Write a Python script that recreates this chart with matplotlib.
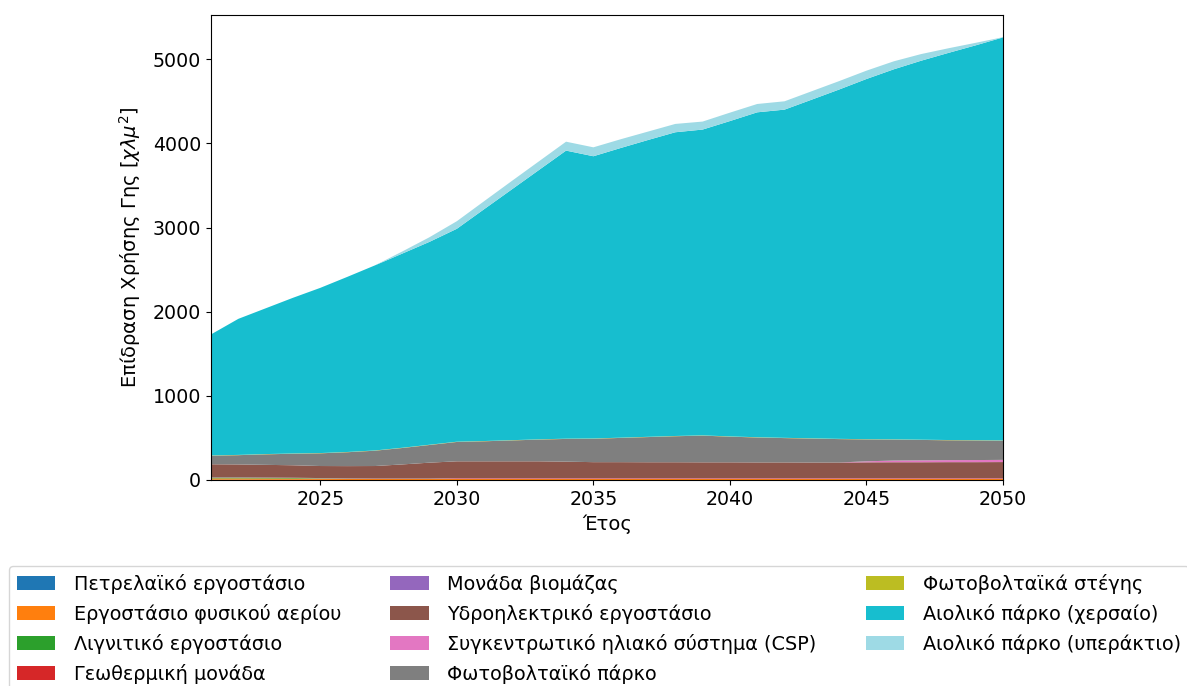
import matplotlib.pyplot as plt
import numpy as np

years = np.arange(2021, 2051)

oil = [3, 3, 2, 2, 1] + [0] * 25
gas = [16, 16, 16, 15, 15] + [14] * 25
lignite = [9, 9, 8, 7, 4, 2] + [0] * 24
geothermal = [0] * 9 + [6] * 21
biomass = [3] * 30
hydro = [156, 154, 151, 148, 143, 146, 149, 168, 189, 199,
         199, 199, 199, 195, 189, 189, 188, 188, 187, 187,
         186, 186, 185, 185, 187, 188, 188, 189, 189, 190]
csp = [0] * 24 + [12, 20, 22, 24, 25, 26]
pv_park = [102, 110, 125, 137, 151, 165, 182, 195, 210, 230,
           238, 248, 258, 270, 278, 288, 299, 309, 317, 305,
           296, 289, 284, 278, 260, 249, 243, 236, 233, 228]
pv_roof = [3] * 30
wind_onshore = [1438, 1617, 1732, 1850, 1963, 2082, 2199, 2307, 2411, 2530,
                2755, 2977, 3199, 3423, 3354, 3442, 3527, 3609, 3634, 3747,
                3861, 3900, 4025, 4151, 4280, 4397, 4503, 4600, 4692, 4789]
wind_offshore = [0, 0, 0, 0, 0, 0, 0, 25, 55, 90,
                 95, 100, 103, 106, 106, 104, 100, 99, 95, 100,
                 99, 99, 100, 100, 99, 95, 79, 55, 30, 3]

labels = ['Πετρελαϊκό εργοστάσιο', 'Εργοστάσιο φυσικού αερίου',
          'Λιγνιτικό εργοστάσιο', 'Γεωθερμική μονάδα', 'Μονάδα βιομάζας',
          'Υδροηλεκτρικό εργοστάσιο', 'Συγκεντρωτικό ηλιακό σύστημα (CSP)',
          'Φωτοβολταϊκό πάρκο', 'Φωτοβολταϊκά στέγης',
          'Αιολικό πάρκο (χερσαίο)', 'Αιολικό πάρκο (υπεράκτιο)']
colors = ['#1f77b4', '#ff7f0e', '#2ca02c', '#d62728', '#9467bd', '#8c564b',
          '#e377c2', '#7f7f7f', '#bcbd22', '#17becf', '#9edae5']

plt.rcParams['font.size'] = 14
plt.rcParams['xtick.labelsize'] = 13.7
plt.rcParams['ytick.labelsize'] = 13.7

fig = plt.figure(figsize=(11.87, 6.86), dpi=100)
ax = fig.add_axes([0.1778, 0.3003, 0.6672, 0.6778])

ax.stackplot(years, oil, gas, lignite, geothermal, biomass, hydro, csp,
             pv_park, pv_roof, wind_onshore, wind_offshore,
             labels=labels, colors=colors)
ax.set_xlim(2021, 2050)
ax.set_xlabel('Έτος')
ax.set_ylabel('Επίδραση Χρήσης Γης [$\\chi\\lambda\\mu^2$]', labelpad=7)

# legend sits under the axes, spanning almost the whole figure width
fig.legend(loc='upper left', bbox_to_anchor=(9 / 1187, 1 - 566 / 686),
           borderaxespad=0, ncol=3, fontsize=13.9, labelspacing=0.52,
           handletextpad=0.95, columnspacing=2.55)

fig.savefig('out.png', dpi=100)
